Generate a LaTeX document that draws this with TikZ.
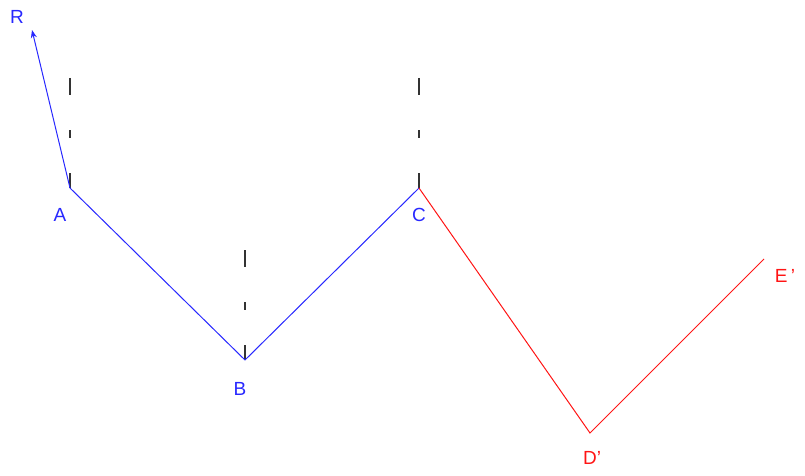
\documentclass[tikz,border=0pt]{standalone}
\usepackage{fontspec}
\setmainfont{Liberation Sans}
\usetikzlibrary{arrows.meta}
\definecolor{pathblue}{RGB}{40,40,255}
\definecolor{imgred}{RGB}{255,20,20}

\begin{document}
\begin{tikzpicture}[
  x=1pt, y=-1pt,
  lbl/.style={font=\fontsize{19}{21}\selectfont, inner sep=0pt},
  orig/.style={pathblue, line width=1pt},
  image/.style={imgred, line width=1pt},
  vert/.style={black!80, line width=1.2pt, dash pattern=on 17pt off 35pt on 8pt off 35pt on 16pt},
]
\useasboundingbox (0,0) rectangle (805,476);
% points
\coordinate (A) at (70,188);
\coordinate (B) at (245,360);
\coordinate (C) at (419,188);
\coordinate (D) at (590,433);
\coordinate (E) at (764,259);
\coordinate (R) at (32,30);
\coordinate (topA) at (70,78);
\coordinate (topB) at (245,250);
\coordinate (topC) at (419,78);
% verticals
\draw[vert] (topA) -- (A);
\draw[vert] (topB) -- (B);
\draw[vert] (topC) -- (C);
% original path and reflected path
\draw[orig] (C) -- (B) -- (A);
\draw[orig, -{Stealth[length=8pt, width=6pt]}] (A) -- (R);
\draw[image] (C) -- (D) -- (E);
% labels
\node[lbl, pathblue] (lblR) at (17,17) {R};
\node[lbl, pathblue] (lblA) at (60,215) {A};
\node[lbl, pathblue] (lblB) at (240,389) {B};
\node[lbl, pathblue] (lblC) at (419,215) {C};
\node[lbl, imgred] (lblD) at (592,458) {D'};
\node[lbl, imgred] (lblE) at (785,276) {E\,'};
\end{tikzpicture}
\end{document}
